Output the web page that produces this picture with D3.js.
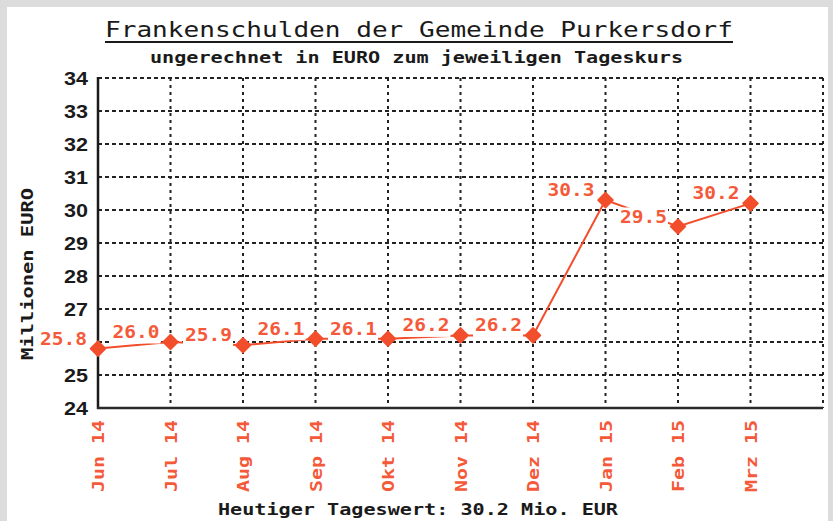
<!DOCTYPE html>
<html>
<head>
<meta charset="utf-8">
<script src="https://cdn.jsdelivr.net/npm/d3@7"></script>
<style>
  html, body { margin: 0; padding: 0; background: #dcdcdc; }
  svg { display: block; }
</style>
</head>
<body>
<div id="chart"></div>
<script>
// data
var months = ["Jun 14", "Jul 14", "Aug 14", "Sep 14", "Okt 14", "Nov 14", "Dez 14", "Jan 15", "Feb 15", "Mrz 15"];
var values = [25.8, 26.0, 25.9, 26.1, 26.1, 26.2, 26.2, 30.3, 29.5, 30.2];
var yTicks = [24, 25, 26, 27, 28, 29, 30, 31, 32, 33, 34];

var title = "Frankenschulden der Gemeinde Purkersdorf";
var subtitle = "ungerechnet in EURO zum jeweiligen Tageskurs";
var yTitle = "Millionen EURO";
var footer = "Heutiger Tageswert: 30.2 Mio. EUR";

function draw_chart() {
    "use strict";
    var W = 833, H = 521;
    var mono = "'DejaVu Sans Mono', 'Liberation Mono', monospace";
    var red = "#f24e2c";
    var redText = "#f45a3a";
    var ink = "#1a1a1a";

    var svg = d3.select("#chart")
        .append("svg")
        .attr("width", W)
        .attr("height", H);

    // white panel on grey frame
    svg.append("rect")
        .attr("x", 7).attr("y", 7)
        .attr("width", 821).attr("height", H)
        .attr("fill", "#ffffff");

    // slot 10 is the empty right edge
    var x = d3.scaleLinear().domain([0, 10]).range([98, 823]);
    var y = d3.scaleLinear().domain([24, 34]).range([408, 78]);

    // titles
    svg.append("text")
        .attr("x", 419).attr("y", 37)
        .attr("text-anchor", "middle")
        .attr("textLength", 628)
        .attr("lengthAdjust", "spacingAndGlyphs")
        .style("font-family", mono)
        .style("font-size", "22px")
        .style("fill", ink)
        .text(title);
    svg.append("line")
        .attr("x1", 105).attr("x2", 733)
        .attr("y1", 42).attr("y2", 42)
        .attr("stroke", ink).attr("stroke-width", 2);

    svg.append("text")
        .attr("x", 416.5).attr("y", 63)
        .attr("text-anchor", "middle")
        .attr("textLength", 533)
        .attr("lengthAdjust", "spacingAndGlyphs")
        .style("font-family", mono)
        .style("font-weight", "bold")
        .style("font-size", "16px")
        .style("fill", ink)
        .text(subtitle);

    // grid
    var grid = svg.append("g")
        .attr("stroke", "#222")
        .attr("stroke-width", 2);
    grid.selectAll("line.h")
        .data(yTicks.slice(1))
        .enter()
        .append("line")
        .attr("class", "h")
        .attr("x1", x(0)).attr("x2", x(10))
        .attr("y1", function (d) { return y(d); })
        .attr("y2", function (d) { return y(d); })
        .attr("stroke-dasharray", "4,3");
    grid.selectAll("line.v")
        .data(d3.range(1, 11))
        .enter()
        .append("line")
        .attr("class", "v")
        .attr("x1", function (d) { return x(d); })
        .attr("x2", function (d) { return x(d); })
        .attr("y1", y(34)).attr("y2", y(24))
        .attr("stroke-dasharray", "3,4");

    // axes
    svg.append("line")
        .attr("x1", x(0)).attr("x2", x(0))
        .attr("y1", y(34) - 1).attr("y2", y(24) + 1)
        .attr("stroke", ink).attr("stroke-width", 2.5);
    svg.append("line")
        .attr("x1", x(0) - 1).attr("x2", x(10))
        .attr("y1", y(24)).attr("y2", y(24))
        .attr("stroke", "#2a2a2a").attr("stroke-width", 2.5);

    // the first value label's white box hides the tick label under it
    var firstLabelTop = y(values[0]) - 19, firstLabelBottom = y(values[0]) + 1.5;
    var shownTicks = yTicks.filter(function (d) {
        return y(d) < firstLabelTop || y(d) > firstLabelBottom;
    });

    svg.selectAll("text.ytick")
        .data(shownTicks)
        .enter()
        .append("text")
        .attr("class", "ytick")
        .attr("x", 88)
        .attr("y", function (d) { return y(d) + 6.5; })
        .attr("text-anchor", "end")
        .attr("textLength", 24)
        .attr("lengthAdjust", "spacingAndGlyphs")
        .style("font-family", "'Liberation Sans', Arial, sans-serif")
        .style("font-weight", "bold")
        .style("font-size", "18px")
        .style("fill", ink)
        .text(function (d) { return d; });

    svg.append("text")
        .attr("transform", "translate(33,274) rotate(-90)")
        .attr("text-anchor", "middle")
        .attr("textLength", 172)
        .attr("lengthAdjust", "spacingAndGlyphs")
        .style("font-family", mono)
        .style("font-weight", "bold")
        .style("font-size", "16px")
        .style("fill", ink)
        .text(yTitle);

    svg.selectAll("text.xtick")
        .data(months)
        .enter()
        .append("text")
        .attr("class", "xtick")
        .attr("transform", function (d, i) {
            return "translate(" + (x(i) + 6) + ",420) rotate(-90)";
        })
        .attr("text-anchor", "end")
        .attr("textLength", 72)
        .attr("lengthAdjust", "spacingAndGlyphs")
        .style("font-family", mono)
        .style("font-weight", "bold")
        .style("font-size", "16px")
        .style("fill", redText)
        .text(function (d) { return d; });

    // series line
    var line = d3.line()
        .x(function (d, i) { return x(i); })
        .y(function (d) { return y(d); });
    svg.append("path")
        .datum(values)
        .attr("d", line)
        .attr("fill", "none")
        .attr("stroke", red)
        .attr("stroke-width", 2);

    // value labels with white boxes (they hide part of the line)
    var labels = svg.selectAll("g.lbl")
        .data(values)
        .enter()
        .append("g")
        .attr("class", "lbl");
    labels.append("rect")
        .attr("x", function (d, i) { return x(i) - 60; })
        .attr("y", function (d) { return y(d) - 19; })
        .attr("width", 50)
        .attr("height", 20.5)
        .attr("fill", "#ffffff");
    labels.append("text")
        .attr("x", function (d, i) { return x(i) - 11; })
        .attr("y", function (d) { return y(d) - 4; })
        .attr("text-anchor", "end")
        .attr("textLength", 47)
        .attr("lengthAdjust", "spacingAndGlyphs")
        .style("font-family", mono)
        .style("font-weight", "bold")
        .style("font-size", "17px")
        .style("fill", redText)
        .text(function (d) { return d.toFixed(1); });

    // diamond markers
    svg.selectAll("path.mark")
        .data(values)
        .enter()
        .append("path")
        .attr("class", "mark")
        .attr("d", function (d, i) {
            var cx = x(i), cy = y(d), r = 7.5;
            return "M" + cx + "," + (cy - r) + "L" + (cx + r) + "," + cy +
                "L" + cx + "," + (cy + r) + "L" + (cx - r) + "," + cy + "Z";
        })
        .attr("fill", red)
        .attr("stroke", red)
        .attr("stroke-linejoin", "round")
        .attr("stroke-width", 1.5);

    svg.append("text")
        .attr("x", 418).attr("y", 515)
        .attr("text-anchor", "middle")
        .attr("textLength", 400)
        .attr("lengthAdjust", "spacingAndGlyphs")
        .style("font-family", mono)
        .style("font-weight", "bold")
        .style("font-size", "16px")
        .style("fill", ink)
        .text(footer);
}

draw_chart();
</script>
</body>
</html>
